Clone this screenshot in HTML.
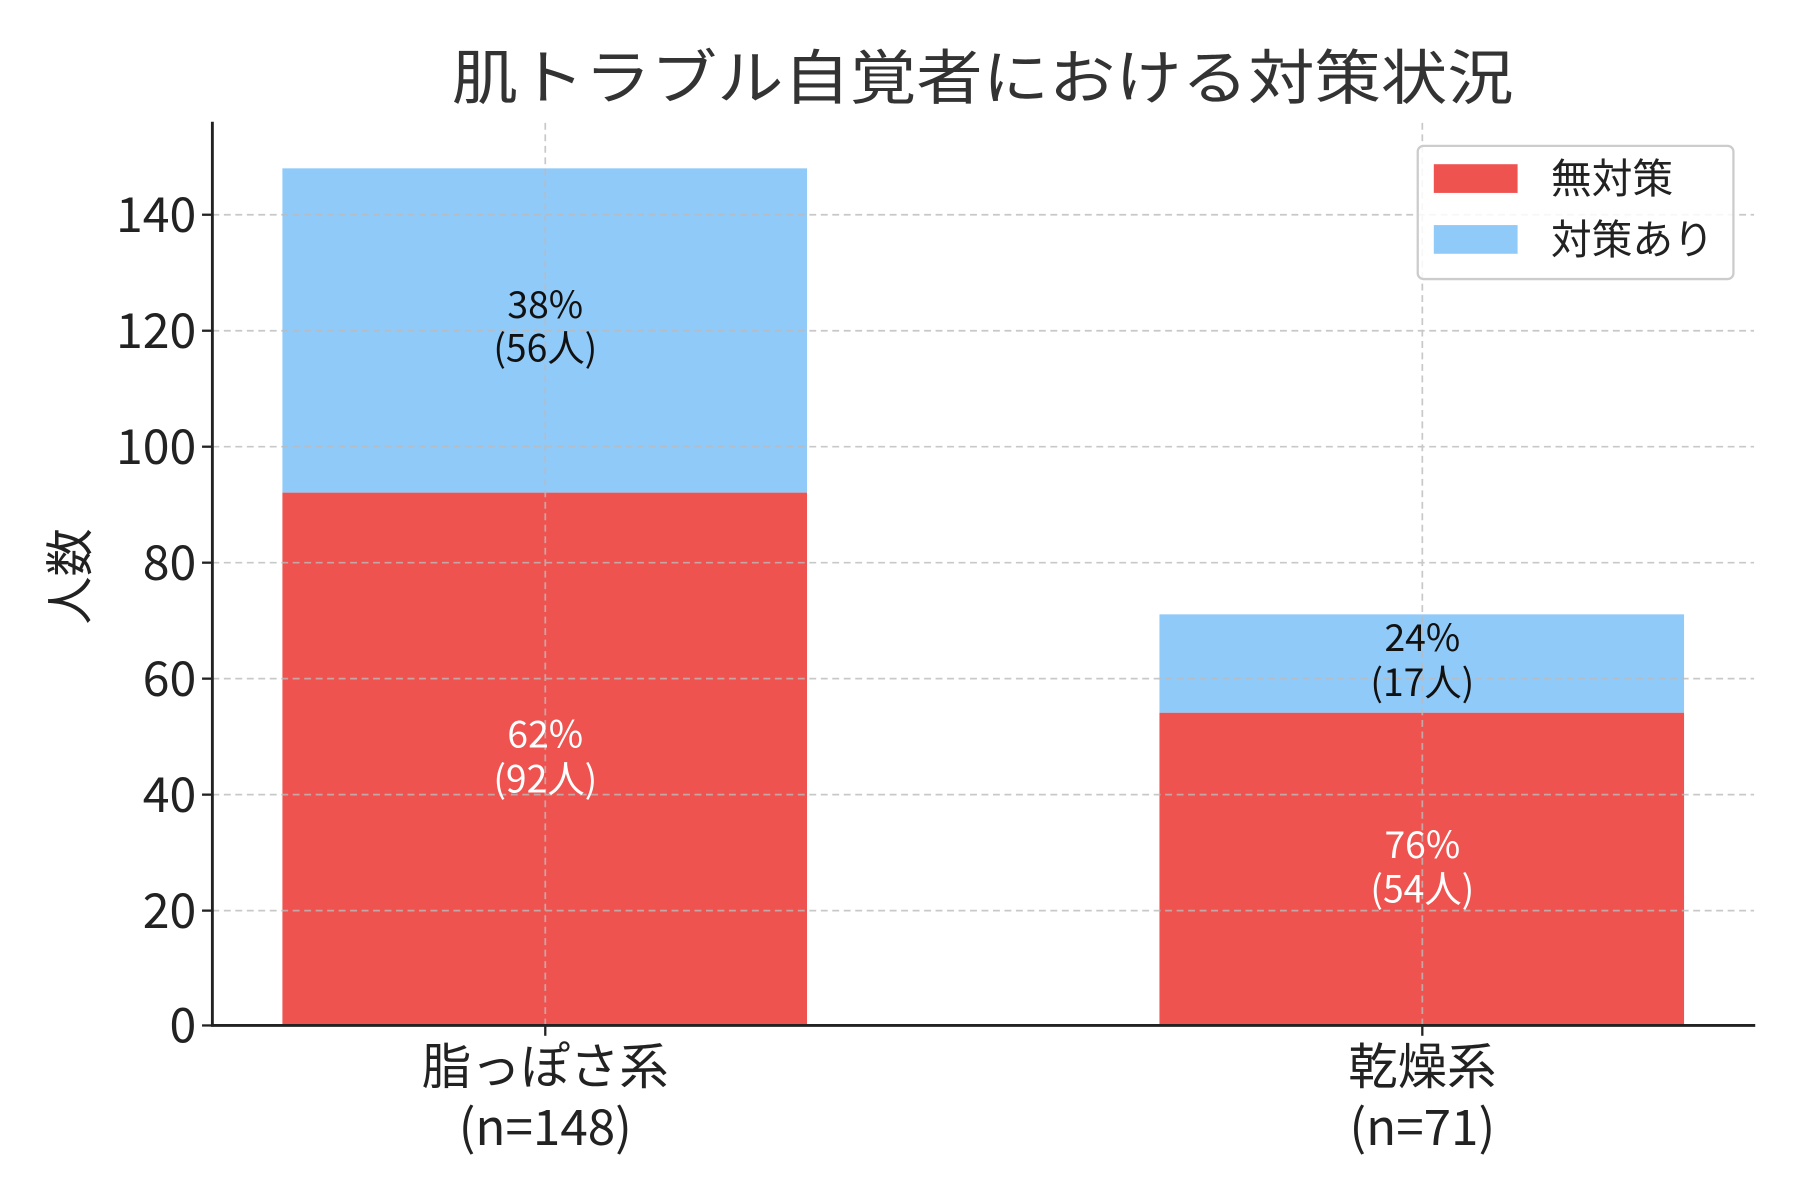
<!DOCTYPE html>
<html><head><meta charset="utf-8"><style>html,body{margin:0;padding:0;background:#fff}svg{display:block}</style></head>
<body>
<svg width="1800" height="1200" viewBox="0 0 1568 1045" preserveAspectRatio="none" xmlns="http://www.w3.org/2000/svg" font-family="'Noto Sans CJK JP',sans-serif">
<rect width="1568" height="1045" fill="#fff"/>
<text x="856" y="86" text-anchor="middle" font-size="52" fill="#333" textLength="925" lengthAdjust="spacingAndGlyphs">肌トラブル自覚者における対策状況</text>
<rect x="246" y="146.6" width="457" height="282.4" fill="#90CAF9"/>
<rect x="246" y="429" width="457" height="464" fill="#EF5350"/>
<rect x="1010" y="535" width="457" height="85.7" fill="#90CAF9"/>
<rect x="1010" y="620.7" width="457" height="272.3" fill="#EF5350"/>
<g stroke="#bbb" stroke-width="1.5" stroke-dasharray="6,4" opacity="0.8">
<line x1="185" x2="1528" y1="187" y2="187"/><line x1="185" x2="1528" y1="288" y2="288"/>
<line x1="185" x2="1528" y1="389" y2="389"/><line x1="185" x2="1528" y1="490" y2="490"/>
<line x1="185" x2="1528" y1="591" y2="591"/><line x1="185" x2="1528" y1="692" y2="692"/>
<line x1="185" x2="1528" y1="793" y2="793"/>
<line x1="475" x2="475" y1="107" y2="893"/><line x1="1239" x2="1239" y1="107" y2="893"/>
</g>
<line x1="185" y1="106" x2="185" y2="894" stroke="#222" stroke-width="2.5"/>
<line x1="184" y1="893" x2="1529" y2="893" stroke="#222" stroke-width="2.5"/>
<g stroke="#222" stroke-width="2">
<line x1="176" x2="185" y1="893" y2="893"/><line x1="176" x2="185" y1="793" y2="793"/><line x1="176" x2="185" y1="692" y2="692"/><line x1="176" x2="185" y1="591" y2="591"/><line x1="176" x2="185" y1="490" y2="490"/><line x1="176" x2="185" y1="389" y2="389"/><line x1="176" x2="185" y1="288" y2="288"/><line x1="176" x2="185" y1="187" y2="187"/>
<line x1="475" x2="475" y1="893" y2="902"/><line x1="1239" x2="1239" y1="893" y2="902"/>
</g>
<g font-size="42" fill="#222" text-anchor="end">
<text x="171" y="908">0</text><text x="171" y="808">20</text><text x="171" y="707">40</text><text x="171" y="606">60</text><text x="171" y="505">80</text><text x="171" y="404">100</text><text x="171" y="303">120</text><text x="171" y="202">140</text>
</g>
<text transform="translate(76,502) rotate(-90)" text-anchor="middle" font-size="42" fill="#222">人数</text>
<g font-size="43" fill="#222" text-anchor="middle">
<text x="475" y="944">脂っぽさ系</text><text x="475" y="997">(n=148)</text>
<text x="1239" y="944">乾燥系</text><text x="1239" y="997">(n=71)</text>
</g>
<g font-size="32.5" text-anchor="middle">
<text x="475" y="277" fill="#111">38%</text><text x="475" y="315" fill="#111">(56人)</text>
<text x="475" y="651" fill="#fff">62%</text><text x="475" y="690" fill="#fff">(92人)</text>
<text x="1239" y="567" fill="#111">24%</text><text x="1239" y="606" fill="#111">(17人)</text>
<text x="1239" y="747" fill="#fff">76%</text><text x="1239" y="786" fill="#fff">(54人)</text>
</g>
<rect x="1235" y="127" width="275" height="116" rx="5" fill="#fff" fill-opacity="0.85" stroke="#ccc" stroke-width="2"/>
<rect x="1249" y="143" width="73" height="25" fill="#EF5350"/>
<rect x="1249" y="196" width="73" height="25" fill="#90CAF9"/>
<text x="1351" y="168" font-size="35.5" fill="#222">無対策</text>
<text x="1351" y="221" font-size="35.5" fill="#222">対策あり</text>
</svg>
</body></html>
